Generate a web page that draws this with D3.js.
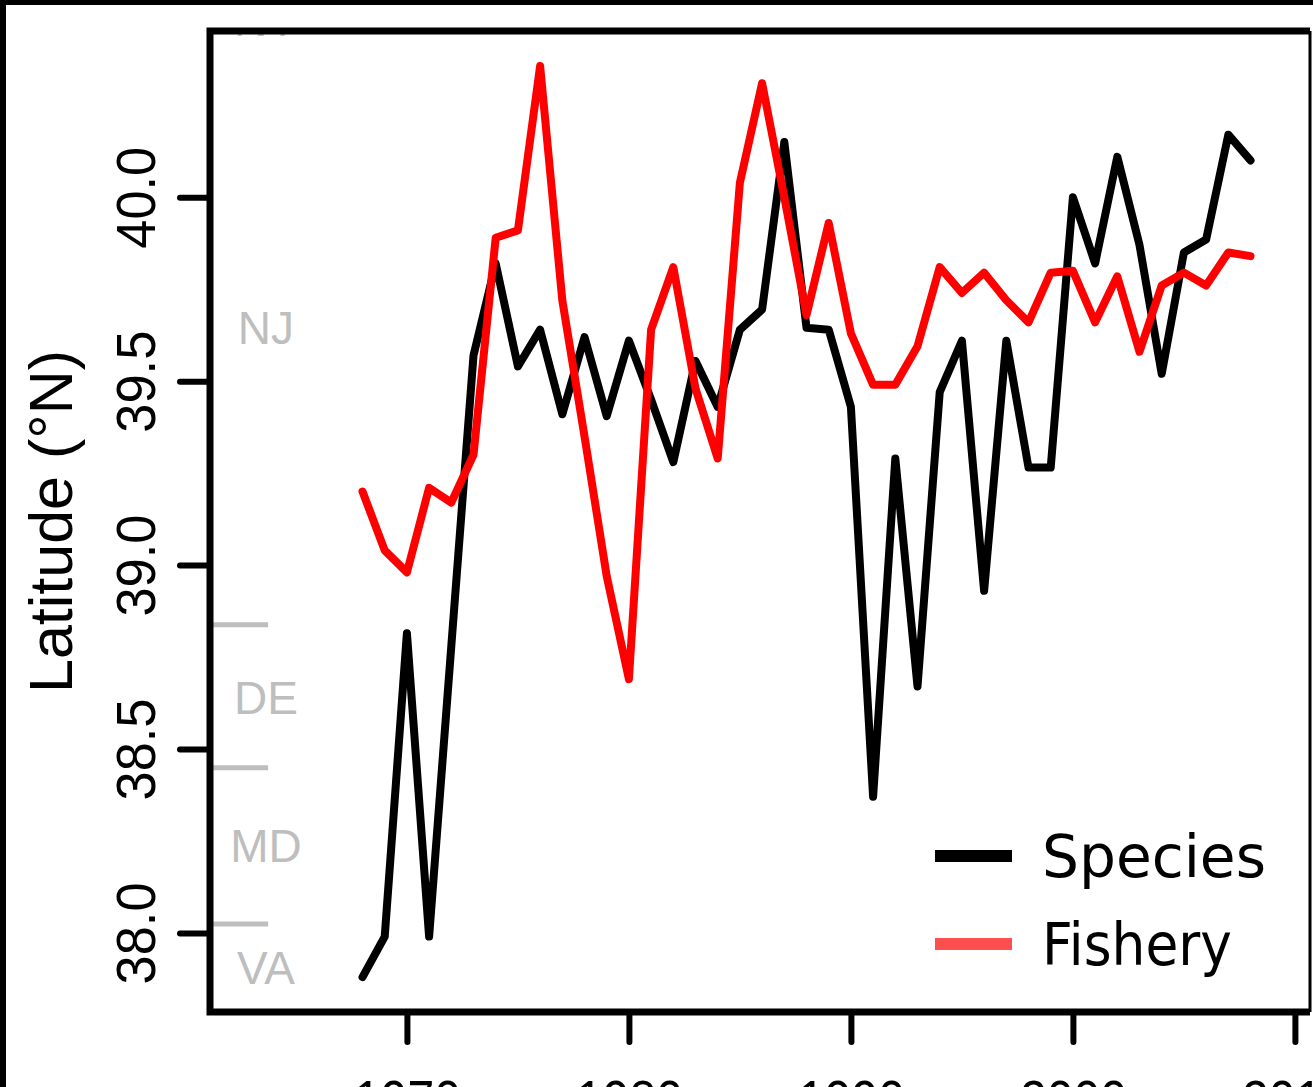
<!DOCTYPE html>
<html>
<head>
    <meta charset="utf-8" />
    <title>Latitude (°N)</title>
    <script src="https://cdn.jsdelivr.net/npm/d3@7"></script>
    <style>
        body {
            margin: 0;
            background: #fff;
        }
        svg {
            display: block;
        }
        .tick line {
            stroke: #000;
            stroke-width: 6px;
            stroke-linecap: round;
        }
    </style>
</head>
<body>
    <div id="chart"></div>

    <script type="text/javascript">
        // data
        var years = [1968, 1969, 1970, 1971, 1972, 1973, 1974, 1975, 1976, 1977,
                     1978, 1979, 1980, 1981, 1982, 1983, 1984, 1985, 1986, 1987,
                     1988, 1989, 1990, 1991, 1992, 1993, 1994, 1995, 1996, 1997,
                     1998, 1999, 2000, 2001, 2002, 2003, 2004, 2005, 2006, 2007, 2008];

        var species = [37.88, 37.99, 38.815, 37.99, 38.78, 39.57, 39.82, 39.54, 39.64, 39.41,
                       39.62, 39.405, 39.61, 39.45, 39.28, 39.555, 39.43, 39.64, 39.695, 40.15,
                       39.645, 39.64, 39.43, 38.37, 39.29, 38.67, 39.47, 39.61, 38.93, 39.61,
                       39.265, 39.265, 40.00, 39.82, 40.11, 39.87, 39.52, 39.85, 39.885, 40.17, 40.10];

        var fishery = [39.20, 39.04, 38.98, 39.21, 39.17, 39.30, 39.89, 39.91, 40.357, 39.72,
                       39.35, 38.97, 38.69, 39.64, 39.81, 39.48, 39.29, 40.04, 40.31, 40.00,
                       39.68, 39.93, 39.63, 39.49, 39.49, 39.595, 39.81, 39.74, 39.795, 39.72,
                       39.66, 39.795, 39.80, 39.66, 39.785, 39.58, 39.76, 39.795, 39.76, 39.85, 39.84];

        var seriesNames = ["Species", "Fishery"];
        var xTicks = [1970, 1980, 1990, 2000, 2010];
        var yTicks = [38.0, 38.5, 39.0, 39.5, 40.0];

        // state labels and borders along the left edge
        var stateNames = ["NY", "NJ", "DE", "MD", "VA"];
        var stateLabelLat = [40.482, 39.646, 38.639, 38.237, 37.905];
        var stateBorderLat = [38.838, 38.449, 38.024];

        var width = 1313, height = 1087;
        var plot = {left: 210, top: 31, right: 1310, bottom: 1012};
        var lineColors = ["#000000", "#ff0000"];
        var legendColors = ["#000000", "#ff5050"];

        var svg = d3.select("#chart").append("svg")
            .attr("width", width)
            .attr("height", height);

        svg.append("rect")
            .attr("width", width)
            .attr("height", height)
            .attr("fill", "#fff");

        var x = d3.scaleLinear().domain([1961.13, 2010.68]).range([plot.left, plot.right]);
        var y = d3.scaleLinear().domain([37.785, 40.452]).range([plot.bottom, plot.top]);

        svg.append("clipPath").attr("id", "plotclip")
            .append("rect")
            .attr("x", plot.left)
            .attr("y", plot.top)
            .attr("width", plot.right - plot.left)
            .attr("height", plot.bottom - plot.top);

        var inner = svg.append("g").attr("clip-path", "url(#plotclip)");

        // state borders (short grey marks)
        inner.selectAll(".border")
            .data(stateBorderLat)
            .enter().append("line")
            .attr("x1", x(1961.13))
            .attr("x2", x(1963.75))
            .attr("y1", function (d) { return y(d); })
            .attr("y2", function (d) { return y(d); })
            .attr("stroke", "#bebebe")
            .attr("stroke-width", 5);

        inner.selectAll(".state")
            .data(stateNames)
            .enter().append("text")
            .attr("x", x(1963.65))
            .attr("y", function (d, i) { return y(stateLabelLat[i]); })
            .attr("dy", "0.35em")
            .attr("text-anchor", "middle")
            .style("font-family", "'Liberation Sans', Arial, sans-serif")
            .style("font-size", "46px")
            .style("fill", "#bebebe")
            .text(function (d) { return d; });

        // the two lines, fishery drawn on top
        var line = d3.line()
            .x(function (d, i) { return x(years[i]); })
            .y(function (d) { return y(d); });

        [species, fishery].forEach(function (vals, k) {
            inner.append("path")
                .datum(vals)
                .attr("d", line)
                .attr("fill", "none")
                .attr("stroke", lineColors[k])
                .attr("stroke-width", 8)
                .attr("stroke-linejoin", "round")
                .attr("stroke-linecap", "round");
        });

        // y axis with rotated labels
        var yAxis = svg.append("g")
            .attr("transform", "translate(" + plot.left + ",0)")
            .call(d3.axisLeft(y).tickValues(yTicks).tickSize(30).tickFormat(d3.format(".1f")));
        yAxis.select(".domain").remove();
        yAxis.selectAll("text")
            .attr("x", null)
            .attr("dy", null)
            .attr("text-anchor", "middle")
            .attr("transform", "translate(-55,0) rotate(-90)")
            .attr("textLength", 102)
            .attr("lengthAdjust", "spacingAndGlyphs")
            .style("font-family", "'Liberation Sans', Arial, sans-serif")
            .style("font-size", "56px")
            .style("fill", "#000");

        // x axis, labels mostly below the visible area
        var xAxis = svg.append("g")
            .attr("transform", "translate(0," + plot.bottom + ")")
            .call(d3.axisBottom(x).tickValues(xTicks).tickSize(30).tickFormat(d3.format("d")));
        xAxis.select(".domain").remove();
        xAxis.selectAll("text")
            .attr("y", 107)
            .attr("dy", null)
            .attr("textLength", 107)
            .attr("lengthAdjust", "spacingAndGlyphs")
            .style("font-family", "'Liberation Sans', Arial, sans-serif")
            .style("font-size", "56px")
            .style("fill", "#000");

        // box around the plot
        svg.append("path")
            .attr("d", "M" + plot.right + "," + plot.top + "H" + plot.left + "V" + plot.bottom + "H" + plot.right)
            .attr("fill", "none")
            .attr("stroke", "#000")
            .attr("stroke-width", 7);
        svg.append("line")
            .attr("x1", plot.right).attr("x2", plot.right)
            .attr("y1", plot.top).attr("y2", plot.bottom)
            .attr("stroke", "#000")
            .attr("stroke-width", 3);

        // y axis title
        svg.append("text")
            .attr("transform", "translate(72," + ((plot.top + plot.bottom) / 2) + ") rotate(-90)")
            .attr("text-anchor", "middle")
            .style("font-family", "'Liberation Sans', Arial, sans-serif")
            .style("font-size", "61px")
            .text("Latitude (°N)");

        // legend
        var legend = svg.selectAll(".legend")
            .data(seriesNames)
            .enter().append("g")
            .attr("transform", function (d, i) { return "translate(935," + (856 + i * 88) + ")"; });
        legend.append("line")
            .attr("x1", 0).attr("x2", 77)
            .attr("stroke", function (d, i) { return legendColors[i]; })
            .attr("stroke-width", 12);
        legend.append("text")
            .attr("x", 107)
            .attr("y", 21)
            .attr("textLength", function (d, i) { return i == 0 ? 224 : 190; })
            .attr("lengthAdjust", "spacingAndGlyphs")
            .style("font-family", "'DejaVu Sans', sans-serif")
            .style("font-size", "58px")
            .text(function (d) { return d; });

        // outer frame of the figure panel
        svg.append("path")
            .attr("d", "M3," + height + "V2H" + width)
            .attr("fill", "none")
            .attr("stroke", "#000")
            .attr("stroke-width", 6);
    </script>
</body>
</html>
